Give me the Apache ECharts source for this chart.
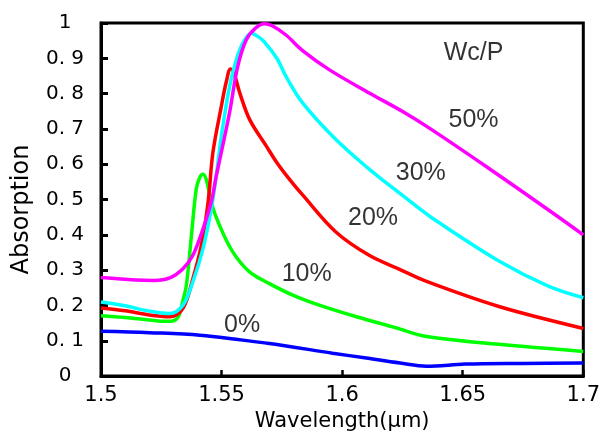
<!DOCTYPE html>
<html>
<head>
<meta charset="utf-8">
<script src="https://cdn.jsdelivr.net/npm/echarts@6/dist/echarts.min.js"></script>
<style>
  html, body { margin: 0; padding: 0; background: #fff; }
  #chart { width: 603px; height: 437px; }
</style>
</head>
<body>
<div id="chart"></div>
<script>
// Absorption spectra for several Wc/P ratios
const xTickLabels = ['1.5', '1.55', '1.6', '1.65', '1.7'];
const yTickLabels = ['0', '0. 1', '0. 2', '0. 3', '0. 4', '0. 5', '0. 6', '0. 7', '0. 8', '0. 9', '1'];

// 0%
const wl0  = [1.500, 1.520, 1.541, 1.569, 1.596, 1.610, 1.624, 1.635, 1.651, 1.675, 1.700];
const abs0 = [0.127, 0.123, 0.116, 0.093, 0.065, 0.051, 0.037, 0.028, 0.034, 0.036, 0.037];

// 10%
const wl10  = [1.500, 1.510, 1.520, 1.527, 1.5305, 1.5325, 1.5340, 1.5354, 1.5375, 1.5395, 1.5410, 1.5423, 1.5437, 1.5457, 1.5492, 1.5547, 1.5616, 1.5698, 1.5800, 1.5905, 1.6060, 1.6222, 1.635, 1.665, 1.700];
const abs10 = [0.171, 0.166, 0.159, 0.155, 0.158, 0.175, 0.215, 0.257, 0.398, 0.530, 0.563, 0.572, 0.556, 0.492, 0.426, 0.351, 0.295, 0.262, 0.228, 0.201, 0.168, 0.137, 0.112, 0.090, 0.070];

// 20%
const wl20  = [1.500, 1.510, 1.520, 1.5285, 1.534, 1.5381, 1.5416, 1.5444, 1.5464, 1.5499, 1.5520, 1.5537, 1.5555, 1.5574, 1.5616, 1.5685, 1.5731, 1.5781, 1.5836, 1.5974, 1.6112, 1.6236, 1.635, 1.665, 1.700];
const abs20 = [0.193, 0.185, 0.173, 0.168, 0.192, 0.276, 0.370, 0.492, 0.633, 0.764, 0.835, 0.870, 0.850, 0.805, 0.727, 0.652, 0.603, 0.558, 0.513, 0.408, 0.342, 0.303, 0.268, 0.197, 0.135];

// 30%
const wl30  = [1.500, 1.510, 1.520, 1.5285, 1.534, 1.5381, 1.5423, 1.5457, 1.5478, 1.5499, 1.5533, 1.5561, 1.5590, 1.5623, 1.5650, 1.5678, 1.5731, 1.5767, 1.5836, 1.5974, 1.6112, 1.6167, 1.6318, 1.637, 1.665, 1.6855, 1.700];
const abs30 = [0.210, 0.199, 0.184, 0.177, 0.201, 0.267, 0.361, 0.473, 0.567, 0.680, 0.820, 0.896, 0.945, 0.971, 0.962, 0.946, 0.898, 0.849, 0.774, 0.670, 0.586, 0.556, 0.476, 0.449, 0.326, 0.255, 0.222];

// 50%
const wl50  = [1.500, 1.510, 1.522, 1.5285, 1.534, 1.5381, 1.5423, 1.5457, 1.5478, 1.5499, 1.5533, 1.5567, 1.5602, 1.5640, 1.5678, 1.5710, 1.5767, 1.5836, 1.5946, 1.6112, 1.6249, 1.636, 1.6594, 1.6869, 1.700];
const abs50 = [0.279, 0.274, 0.271, 0.278, 0.304, 0.342, 0.417, 0.492, 0.567, 0.634, 0.746, 0.877, 0.952, 0.985, 0.998, 0.992, 0.966, 0.922, 0.868, 0.802, 0.750, 0.703, 0.595, 0.464, 0.400];

// text annotations: [wavelength, absorption, text]
const noteX    = [1.6545, 1.6545, 1.6326, 1.6128, 1.5853, 1.5585];
const noteY    = [0.915, 0.724, 0.575, 0.448, 0.288, 0.145];
const noteText = ['Wc/P', '50%', '30%', '20%', '10%', '0%'];

const pairs = (xs, ys) => xs.map((x, i) => [x, ys[i]]);

const lineSeries = (name, xs, ys, color) => ({
  name: name,
  type: 'line',
  data: pairs(xs, ys),
  smooth: 0.35,
  showSymbol: false,
  symbol: 'none',
  clip: false,
  lineStyle: { color: color, width: 3.5 },
  z: 3
});

const chart = echarts.init(document.getElementById('chart'), null, { renderer: 'canvas' });

chart.setOption({
  animation: false,
  backgroundColor: '#ffffff',
  grid: {
    left: 101, right: 17, top: 23, bottom: 59,
    show: true, borderColor: '#000', borderWidth: 3, backgroundColor: 'transparent'
  },
  xAxis: {
    type: 'value',
    min: 1.5, max: 1.7, interval: 0.05,
    name: 'Wavelength(μm)',
    nameLocation: 'middle',
    nameGap: 34,
    nameTextStyle: { fontFamily: 'DejaVu Sans', fontSize: 21, color: '#000' },
    axisLine: { show: true, lineStyle: { color: '#000', width: 3 } },
    axisTick: { show: true, inside: true, length: 6, lineStyle: { color: '#000', width: 2.5 } },
    axisLabel: {
      margin: 9,
      fontFamily: 'DejaVu Sans', fontSize: 21, color: '#000',
      formatter: v => xTickLabels[Math.round((v - 1.5) / 0.05)]
    },
    splitLine: { show: false }
  },
  yAxis: {
    type: 'value',
    min: 0, max: 1, interval: 0.1,
    name: 'Absorption',
    nameLocation: 'middle',
    nameGap: 67,
    nameRotate: 90,
    nameTextStyle: { fontFamily: 'DejaVu Sans', fontSize: 24, color: '#000', padding: [0, 20, 0, 0] },
    axisLine: { show: true, lineStyle: { color: '#000', width: 3 } },
    axisTick: { show: true, inside: true, length: 7, lineStyle: { color: '#000', width: 3 } },
    axisLabel: {
      margin: 36,
      align: 'center',
      padding: [4, 0, 0, 0],
      fontFamily: 'DejaVu Sans', fontSize: 20, color: '#000',
      formatter: v => yTickLabels[Math.round(v * 10)]
    },
    splitLine: { show: false }
  },
  series: [
    lineSeries('0%', wl0, abs0, '#0000ff'),
    lineSeries('10%', wl10, abs10, '#00ff00'),
    lineSeries('20%', wl20, abs20, '#ff0000'),
    lineSeries('30%', wl30, abs30, '#00ffff'),
    lineSeries('50%', wl50, abs50, '#ff00ff'),
    {
      name: 'notes',
      type: 'scatter',
      symbolSize: 0,
      silent: true,
      z: 5,
      data: noteX.map((x, i) => ({ value: [x, noteY[i]], label: { formatter: noteText[i] } })),
      label: {
        show: true,
        position: 'inside',
        fontFamily: 'Liberation Sans',
        fontSize: 25,
        color: '#000'
      }
    }
  ]
});
</script>
</body>
</html>
